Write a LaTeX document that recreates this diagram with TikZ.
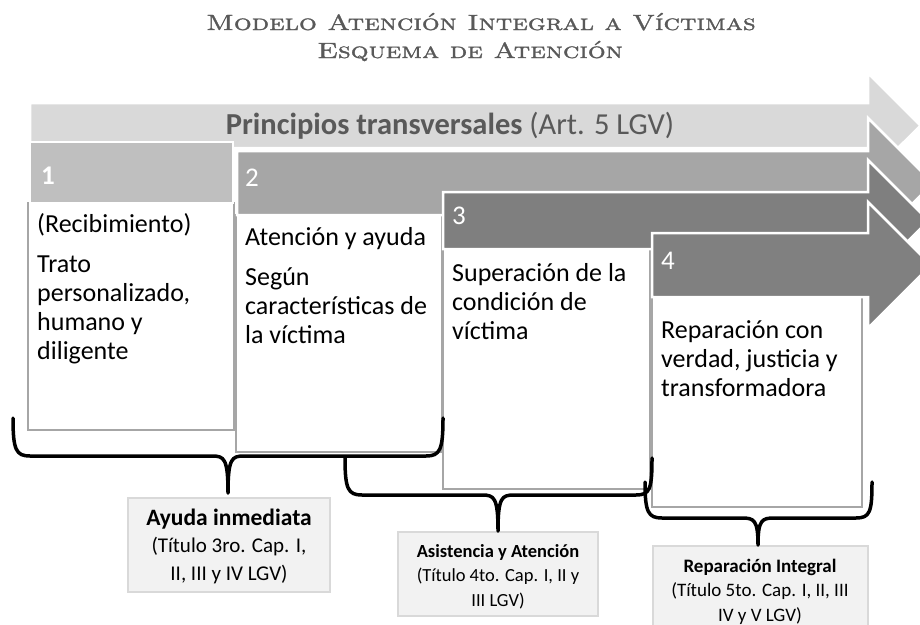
\documentclass[tikz,border=0pt]{standalone}
\usepackage{fontspec}
\newfontfamily\calib{Carlito}
\newfontfamily\ttlfont{lmromancaps10-regular.otf}[FakeBold=1.2]
\definecolor{ttl}{HTML}{595959}
\definecolor{ga}{HTML}{D9D9D9}
\definecolor{gh}{HTML}{BFBFBF}
\definecolor{gb}{HTML}{A6A6A6}
\definecolor{gc}{HTML}{7F7F7F}
\definecolor{gd}{HTML}{808080}
\definecolor{lbl}{HTML}{F2F2F2}
\begin{document}
\begin{tikzpicture}[x=1pt,y=-1pt,
  arr/.style={draw=white,line width=2.5pt,line join=miter},
  wbox/.style={draw=gb,fill=white,line width=2.5pt},
  lab/.style={draw=ga,fill=lbl,line width=2pt},
  num/.style={text=white,anchor=base west,inner sep=0pt,font=\calib\fontsize{27}{30}\selectfont},
  body/.style={anchor=base west,inner sep=0pt,align=left,font=\calib\fontsize{26}{29}\selectfont},
  brace/.style={draw=black,line width=3.5pt,line cap=round,line join=round},
  labtxt/.style={anchor=base,inner sep=0pt,align=center}]
\clip (0,0) rectangle (920,624);
\fill[white] (0,0) rectangle (920,624);
% title
\node[text=ttl,anchor=base,inner sep=0pt,font=\ttlfont\fontsize{22}{26}\selectfont] (t1) at (481,30) {\scalebox{1.27}[1]{Modelo Atención Integral a Víctimas}};
\node[text=ttl,anchor=base,inner sep=0pt,font=\ttlfont\fontsize{22}{26}\selectfont] (t2) at (470,58) {\scalebox{1.27}[1]{Esquema de Atención}};
% arrow 0
\fill[ga,arr] (30,103) -- (868,103) -- (868,73) -- (920.5,125.5) -- (868,178) -- (868,148) -- (30,148) -- cycle;
\node[text=ttl,anchor=base,inner sep=0pt,font=\calib\fontsize{30.5}{33}\selectfont] (pr) at (450,134) {\textbf{Principios transversales} (Art. 5 LGV)};
% step 1
\draw[wbox] (28,203) rectangle (234,430);
\fill[gh,arr] (30,142) rectangle (233,203);
\node[num] (n1) at (41,184) {\textbf{1}};
\node[body] (b1) at (37,359) {(Recibimiento)\\[11pt]Trato\\personalizado,\\humano y\\diligente};
% step 2
\draw[wbox] (236,215) rectangle (442,452);
\fill[gb,arr] (237,151) -- (868,151) -- (868,118) -- (933,183) -- (868,248) -- (868,215) -- (237,215) -- cycle;
\node[num] (n2) at (245,186) {2};
\node[body] (b2) at (245,343) {Atención y ayuda\\[11pt]Según\\características de\\la víctima};
% step 3
\draw[wbox] (443,249) rectangle (650,489);
\fill[gc,arr] (443,192) -- (868,192) -- (868,160) -- (928.5,220.5) -- (868,281) -- (868,249) -- (443,249) -- cycle;
\node[num] (n3) at (452,224) {3};
\node[body] (b3) at (452,339) {Superación de la\\condición de\\víctima};
% step 4
\draw[wbox] (652,297) rectangle (862,507);
\fill[gd,arr] (652,233) -- (868,233) -- (868,202) -- (931,265) -- (868,328) -- (868,297) -- (652,297) -- cycle;
\node[num] (n4) at (661,269) {4};
\node[body] (b4) at (661,396) {Reparación con\\verdad, justicia y\\transformadora};
% label boxes
\draw[lab] (128,498) rectangle (330,592);
\node[labtxt,font=\calib\fontsize{21}{27.5}\selectfont] (la) at (229,580) {{\fontsize{23.5}{27.5}\selectfont\textbf{Ayuda inmediata}}\\(Título 3ro. Cap. I,\\II, III y IV LGV)};
\draw[lab] (398,532) rectangle (598,616);
\node[labtxt,font=\calib\fontsize{18.5}{24.5}\selectfont] (lb) at (498,606) {\textbf{Asistencia y Atención}\\(Título 4to. Cap. I, II y\\III LGV)};
\draw[lab] (653,546) rectangle (868,630);
\node[labtxt,font=\calib\fontsize{19}{24.5}\selectfont] (lc) at (760,621) {\textbf{Reparación Integral}\\(Título 5to. Cap. I, II, III\\IV y V LGV)};
% braces
\coordinate (a1) at (13,418); \coordinate (a2) at (443,418); \coordinate (at) at (228,493);
\draw[brace] (a1) .. controls (13,450) and (16,456) .. (30,456) -- (212,456) .. controls (224,456) and (228,458) .. (at) .. controls (228,458) and (232,456) .. (244,456) -- (426,456) .. controls (440,456) and (443,450) .. (a2);
\coordinate (c1) at (345,458); \coordinate (c2) at (652,458); \coordinate (ct) at (498,531);
\draw[brace] (c1) .. controls (345,489) and (348,495) .. (362,495) -- (482,495) .. controls (494,495) and (498,497) .. (ct) .. controls (498,497) and (502,495) .. (514,495) -- (636,495) .. controls (650,495) and (652,489) .. (c2);
\coordinate (d1) at (645,482); \coordinate (d2) at (872,482); \coordinate (dt) at (758,545);
\draw[brace] (d1) .. controls (645,512) and (648,518) .. (662,518) -- (742,518) .. controls (754,518) and (758,520) .. (dt) .. controls (758,520) and (762,518) .. (774,518) -- (856,518) .. controls (870,518) and (872,512) .. (d2);
\end{tikzpicture}
\end{document}
